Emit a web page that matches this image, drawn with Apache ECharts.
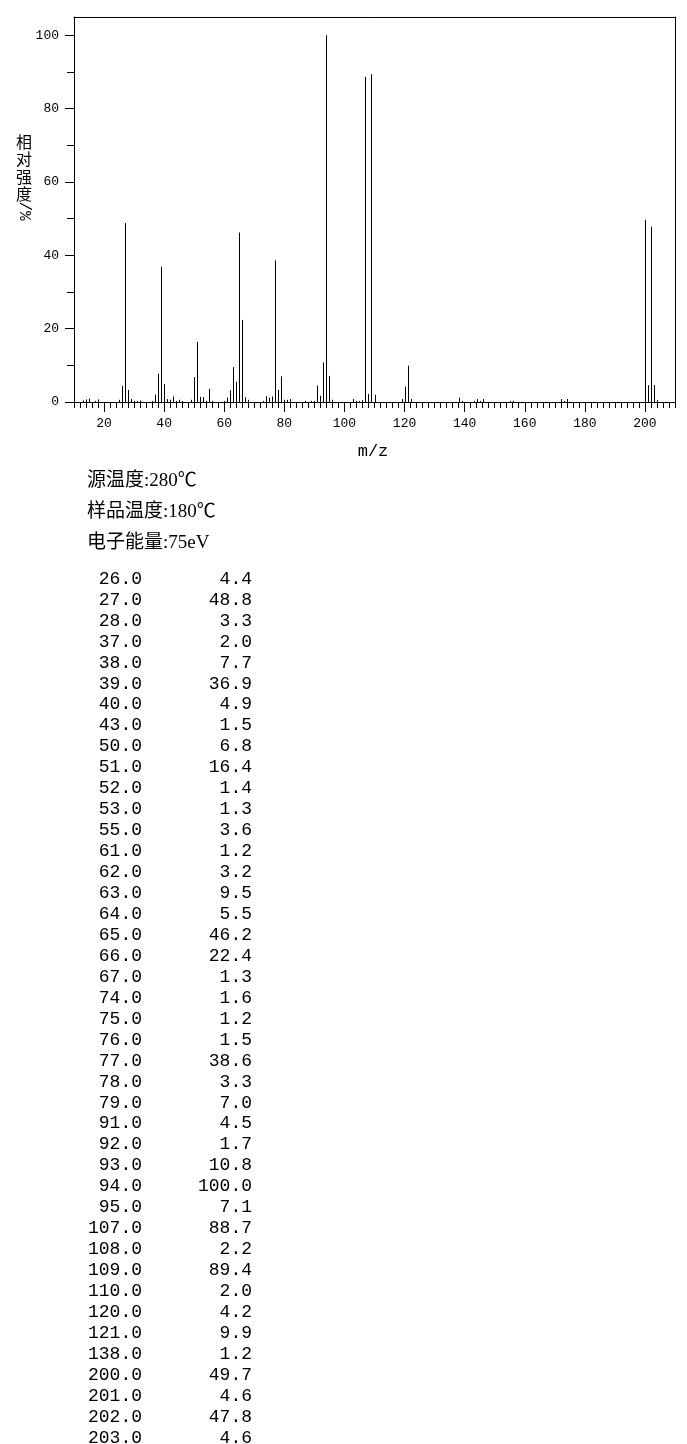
<!DOCTYPE html>
<html>
<head>
<meta charset="utf-8">
<script src="https://cdn.jsdelivr.net/npm/echarts@6/dist/echarts.min.js"></script>
<style>
html,body{margin:0;padding:0;background:#fff;}
#chart{width:687px;height:1444px;}
</style>
</head>
<body>
<div id="chart"></div>
<script>
// Peaks listed in the table (m/z, relative intensity %)
const tableMz = [26,27,28,37,38,39,40,43,50,51,52,53,55,61,62,63,64,65,66,67,74,75,76,77,78,79,91,92,93,94,95,107,108,109,110,120,121,138,200,201,202,203];
const tableInt = [4.4,48.8,3.3,2.0,7.7,36.9,4.9,1.5,6.8,16.4,1.4,1.3,3.6,1.2,3.2,9.5,5.5,46.2,22.4,1.3,1.6,1.2,1.5,38.6,3.3,7.0,4.5,1.7,10.8,100.0,7.1,88.7,2.2,89.4,2.0,4.2,9.9,1.2,49.7,4.6,47.8,4.6];
// Small peaks visible in the spectrum but not listed
const minorMz = [13,14,15,17,18,25,29,30,31,32,36,41,42,44,45,46,49,54,56,60,68,73,80,81,82,87,89,90,96,103,104,105,106,119,122,139,143,144,145,146,155,156,172,173,174,204];
const minorInt = [0.4,0.7,0.9,0.3,0.7,0.6,0.8,0.3,0.3,0.4,0.3,0.8,0.6,0.3,0.6,0.3,0.6,0.3,0.3,0.3,0.6,0.3,0.6,0.6,0.8,0.3,0.3,0.3,0.6,0.8,0.3,0.3,0.5,0.8,0.8,0.3,0.3,0.8,0.3,0.8,0.3,0.3,0.8,0.3,0.8,0.5];
// Axis ticks
const xMajorTicks = [20,40,60,80,100,120,140,160,180,200];
const xMinorTicks = [];
for (let v = 10; v <= 210; v += 2) { if (v % 20 !== 0) xMinorTicks.push(v); }
const yMajorTicks = [0,20,40,60,80,100];
const yMinorTicks = [10,30,50,70,90];
// Texts
const infoLines = ['源温度:280℃','样品温度:180℃','电子能量:75eV'];
const xName = 'm/z';
const yNameChars = '相\n对\n强\n度';
const yNameUnit = '/%';

const peaks = [];
tableMz.forEach((m,i)=>peaks.push([m, tableInt[i]]));
minorMz.forEach((m,i)=>peaks.push([m, minorInt[i]]));

const monoFont = '"Liberation Mono", "DejaVu Sans Mono", monospace';
const tickFont = {fontFamily: monoFont, fontSize: 13, color: '#000'};

const chart = echarts.init(document.getElementById('chart'), null, {renderer:'canvas'});

const graphics = [];
graphics.push({type:'text', x:373, y:451, style:{text:xName, font:'17px ' + monoFont, fill:'#000', textAlign:'center', textVerticalAlign:'middle'}});
graphics.push({type:'text', x:24, y:133, style:{text:yNameChars, font:'16px "Noto Sans CJK SC"', lineHeight:17.5, fill:'#000', textAlign:'center', textVerticalAlign:'top'}});
graphics.push({type:'text', x:24, y:211, rotation:-Math.PI/2, style:{text:yNameUnit, font:'16px ' + monoFont, fill:'#000', textAlign:'center', textVerticalAlign:'middle'}});
infoLines.forEach((t,i)=>{
  graphics.push({type:'text', x:87, y:481 + i*31, style:{text:t, font:'19px "Liberation Serif", "Noto Sans CJK SC"', fill:'#000', textAlign:'left', textVerticalAlign:'middle'}});
});
tableMz.forEach((m,i)=>{
  const y = 579 + i*20.95;
  graphics.push({type:'text', x:142, y:y, style:{text:m.toFixed(1), font:'18px ' + monoFont, fill:'#000', textAlign:'right', textVerticalAlign:'middle'}});
  graphics.push({type:'text', x:252, y:y, style:{text:tableInt[i].toFixed(1), font:'18px ' + monoFont, fill:'#000', textAlign:'right', textVerticalAlign:'middle'}});
});

const lineStyleBlack = {color:'#000', width:1};

chart.setOption({
  animation:false,
  backgroundColor:'#fff',
  grid:{left:74, top:17, right:12, bottom:1042, containLabel:false, show:false},
  xAxis:[
    {type:'value', min:10, max:210, position:'bottom', offset:0,
     axisLine:{show:true, onZero:false, lineStyle:lineStyleBlack},
     axisTick:{show:true, length:6, customValues:xMinorTicks, lineStyle:lineStyleBlack},
     axisLabel:{show:false}, splitLine:{show:false}},
    {type:'value', min:10, max:210, position:'bottom', offset:0,
     axisLine:{show:true, onZero:false, lineStyle:lineStyleBlack},
     axisTick:{show:true, length:10, customValues:xMajorTicks, lineStyle:lineStyleBlack},
     axisLabel:{show:true, customValues:xMajorTicks, margin:15, ...tickFont}, splitLine:{show:false}},
    {type:'value', min:10, max:210, position:'top', offset:0,
     axisLine:{show:true, onZero:false, lineStyle:lineStyleBlack},
     axisTick:{show:false}, axisLabel:{show:false}, splitLine:{show:false}}
  ],
  yAxis:[
    {type:'value', min:0, max:105, position:'left', offset:0,
     axisLine:{show:true, onZero:false, lineStyle:lineStyleBlack},
     axisTick:{show:true, length:9, customValues:yMajorTicks, lineStyle:lineStyleBlack},
     axisLabel:{show:true, customValues:yMajorTicks, margin:15, ...tickFont}, splitLine:{show:false}},
    {type:'value', min:0, max:105, position:'left', offset:0,
     axisLine:{show:false},
     axisTick:{show:true, length:7, customValues:yMinorTicks, lineStyle:lineStyleBlack},
     axisLabel:{show:false}, splitLine:{show:false}},
    {type:'value', min:0, max:105, position:'right', offset:0,
     axisLine:{show:true, onZero:false, lineStyle:lineStyleBlack},
     axisTick:{show:false}, axisLabel:{show:false}, splitLine:{show:false}}
  ],
  series:[{
    type:'custom', xAxisIndex:0, yAxisIndex:0, data:peaks, clip:false,
    renderItem:function(params, api){
      const x = api.value(0), y = api.value(1);
      const p0 = api.coord([x,0]);
      const p1 = api.coord([x,y]);
      const px = Math.round(p0[0]) + 0.5;
      return {type:'line', shape:{x1:px, y1:p0[1], x2:px, y2:p1[1]}, style:{stroke:'#000', lineWidth:1}};
    }
  }],
  graphic:graphics
});
</script>
</body>
</html>
